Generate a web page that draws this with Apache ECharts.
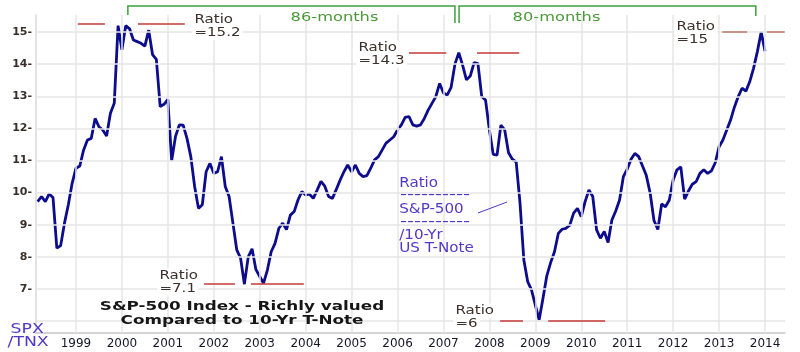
<!DOCTYPE html>
<html><head><meta charset="utf-8">
<script src="https://cdn.jsdelivr.net/npm/echarts@6/dist/echarts.min.js"></script>
<style>html,body{margin:0;padding:0;background:#fff}#c{width:800px;height:352px}</style>
</head><body><div id="c"></div>
<script>
// ---- data ----
const firstYear = 1998;
const firstMonth = 2; // 0-based month index of the first value (March 1998)
const ratio = [
  9.72, 9.88, 9.72, 9.96, 9.85, 8.27, 8.35, 9.05, 9.62, 10.29,
  10.76, 10.83, 11.33, 11.64, 11.69, 12.31, 12.05, 11.95, 11.76, 12.47, 12.78, 15.2,
  14.45, 15.2, 15.1, 14.75, 14.7, 14.65, 14.56, 15.06, 14.3, 14.15, 12.68, 12.75,
  12.9, 11.0, 11.75, 12.11, 12.1, 11.69, 11.12, 10.19, 9.51, 9.62, 10.65, 10.91,
  10.6, 10.65, 11.12, 10.19, 9.88, 9.05, 8.22, 7.96, 7.15, 8.0, 8.25, 7.61,
  7.39, 7.18, 7.59, 8.16, 8.42, 8.89, 9.05, 8.85, 9.3, 9.41, 9.77, 10.03,
  9.93, 9.95, 9.82, 10.08, 10.35, 10.2, 9.88, 9.82, 10.1, 10.39, 10.65, 10.86,
  10.65, 10.86, 10.6, 10.5, 10.53, 10.76, 11.02, 11.12, 11.33, 11.54, 11.64, 11.74,
  11.95, 12.11, 12.34, 12.37, 12.11, 12.07, 12.11, 12.31, 12.57, 12.78, 12.99, 13.4,
  13.1, 13.04, 13.28, 14.0, 14.36, 13.97, 13.51, 13.63, 14.05, 14.02, 12.99, 12.88,
  11.95, 11.19, 11.17, 12.1, 11.95, 11.24, 11.04, 10.95, 9.67, 7.9, 7.23, 6.97,
  6.5, 6.04, 6.71, 7.41, 7.82, 8.16, 8.73, 8.86, 8.89, 8.99, 9.36, 9.51,
  9.25, 9.72, 10.08, 9.88, 8.84, 8.58, 8.79, 8.45, 9.15, 9.43, 9.77, 10.5,
  10.73, 11.04, 11.22, 11.12, 10.83, 10.53, 9.98, 9.13, 8.85, 9.65, 9.56, 9.77,
  10.39, 10.71, 10.8, 9.8, 10.05, 10.26, 10.34, 10.6, 10.71, 10.6, 10.68, 10.93,
  11.43, 11.64, 11.95, 12.26, 12.66, 12.99, 13.25, 13.16, 13.45, 13.87, 14.39, 15.0,
  14.4
];
const yearTicks = [1999,2000,2001,2002,2003,2004,2005,2006,2007,2008,2009,2010,2011,2012,2013,2014];
const valueTicks = [7,8,9,10,11,12,13,14,15];
const gridValues = [6,7,8,9,10,11,12,13,14,15];
const levelValues = [15.25, 14.37, 7.15, 6.0, 15.0];
const levelSpans = [
  [[1999.04, 1999.63], [2000.35, 2001.37]],
  [[2006.25, 2007.06], [2007.73, 2008.65]],
  [[2001.79, 2002.46], [2002.81, 2003.96]],
  [[2008.23, 2008.73], [2009.28, 2010.52]],
  [[2013.07, 2013.61], [2014.04, 2014.43]]
];
const levelLabels = ['=15.2', '=14.3', '=7.1', '=6', '=15'];
const cycleSpans = [[2000.13, 2007.25], [2007.34, 2013.8]];
const cycleLabels = ['86-months', '80-months'];

// ---- chart ----
const chart = echarts.init(document.getElementById('c'), null, {renderer: 'canvas'});
const FONT = '"DejaVu Sans", Verdana, sans-serif';
const X_MIN = 1998.13, X_MAX = 2014.435, Y_MIN = 5.63, Y_MAX = 15.53;

const lineData = ratio.map((v, i) => [firstYear + (firstMonth + i) / 12, v]);

const gridMarks = gridValues.map(v => ({yAxis: v})).concat(yearTicks.map(y => ({xAxis: y})));
const levelMarks = [];
levelSpans.forEach((spans, k) => {
  spans.forEach(s => {
    levelMarks.push([
      {coord: [s[0], levelValues[k]], lineStyle: {color: k === 4 ? '#b87a62' : '#c63a3a'}},
      {coord: [s[1], levelValues[k]]}
    ]);
  });
});

chart.setOption({
  animation: false,
  grid: {left: 36, right: 15, top: 15, bottom: 19, containLabel: false},
  xAxis: {
    type: 'value', min: X_MIN, max: X_MAX,
    splitLine: {show: false},
    axisTick: {show: false},
    axisLine: {show: true, lineStyle: {color: '#c8c8c8', width: 1.5}},
    axisLabel: {
      customValues: yearTicks, margin: 5,
      color: '#16162a', fontFamily: FONT, fontSize: 12,
      formatter: v => String(Math.round(v))
    }
  },
  yAxis: {
    type: 'value', min: Y_MIN, max: Y_MAX,
    splitLine: {show: false},
    axisTick: {show: false},
    axisLine: {show: true, lineStyle: {color: '#dadada', width: 1.5}},
    axisLabel: {
      customValues: valueTicks, margin: 4,
      color: '#3b2f2a', fontFamily: FONT, fontSize: 11, fontWeight: 'bold',
      formatter: v => Math.round(v) + '-'
    }
  },
  series: [
    {
      type: 'line', data: [], z: 1, silent: true,
      markLine: {
        silent: true, symbol: ['none', 'none'], label: {show: false},
        lineStyle: {color: '#e6e6e6', width: 1.5, type: 'solid'},
        emphasis: {disabled: true},
        data: gridMarks
      }
    },
    {
      type: 'line', data: [], z: 2, silent: true,
      markLine: {
        silent: true, symbol: ['none', 'none'], label: {show: false},
        lineStyle: {color: '#c63a3a', width: 1.5, type: 'solid'},
        emphasis: {disabled: true},
        data: levelMarks
      }
    },
    {
      type: 'line', data: lineData, z: 3, showSymbol: false, symbol: 'none',
      lineStyle: {color: '#0c0c8c', width: 2.8}, silent: true
    }
  ]
});

// ---- annotations ----
function txt(text, x, y, o) {
  o = o || {};
  return {
    type: 'text', x: x, y: y, scaleX: o.sx || 1.25, z: 20, silent: true,
    style: {
      text: text, fill: o.color || '#3c3029',
      font: (o.bold ? 'bold ' : '') + (o.size || 12) + 'px ' + FONT,
      align: o.align || 'left', verticalAlign: 'middle',
      backgroundColor: o.bg === false ? 'transparent' : '#fff',
      padding: o.pad || [1, 2]
    }
  };
}
const px = (x, y) => chart.convertToPixel({gridIndex: 0}, [x, y]);
const g = [];
// level labels
const ratioPos = [[192, 19.5, 32.5], [356, 47.5, 61], [157, 275.5, 288.5], [453, 310.5, 323.5], [674, 26.5, 39.5]];
ratioPos.forEach((p, k) => {
  g.push(txt('Ratio', p[0], p[1]));
  g.push(txt(levelLabels[k], p[0], p[2]));
});
// cycle brackets
const GREEN = '#3e9e3e';
const cycleTextX = [288, 510];
cycleSpans.forEach((s, k) => {
  const a = px(s[0], 10)[0], b = px(s[1], 10)[0];
  const la = k === 0 ? 15 : 23, lb = k === 0 ? 23 : 16;
  g.push({type: 'polyline', z: 20, silent: true,
    shape: {points: [[a, la], [a, 6], [b, 6], [b, lb]]},
    style: {stroke: GREEN, lineWidth: 1.5, fill: null}});
  g.push(txt(cycleLabels[k], cycleTextX[k], 17.7, {color: '#4a9a38', size: 12.5, sx: 1.3, bg: false}));
});
// title
g.push(txt('S&P-500 Index - Richly valued', 242, 307.3, {bold: true, color: '#161616', sx: 1.4, align: 'center', bg: false}));
g.push(txt('Compared to 10-Yr T-Note', 242, 321, {bold: true, color: '#161616', sx: 1.4, align: 'center', bg: false}));
// ratio legend block
const VIO = '#5438c6';
const vo = {color: VIO, size: 13.5, sx: 1.12, bg: false, pad: 0};
g.push(txt('Ratio', 397, 183, vo));
g.push(txt('----------', 397, 195.5, {color: VIO, size: 13.5, sx: 1.44, bg: false, pad: 0}));
g.push(txt('S&P-500', 397, 209, vo));
g.push(txt('----------', 397, 222, {color: VIO, size: 13.5, sx: 1.44, bg: false, pad: 0}));
g.push(txt('/10-Yr', 397, 235, vo));
g.push(txt('US T-Note', 397, 248.5, vo));
g.push({type: 'line', z: 20, silent: true, shape: {x1: 478, y1: 213, x2: 507, y2: 202},
  style: {stroke: VIO, lineWidth: 1}});
// axis name
g.push(txt('SPX', 8, 329, {color: VIO, size: 13.5, sx: 1.28, bg: false, pad: 0}));
g.push(txt('/TNX', 5, 342.5, {color: VIO, size: 13.5, sx: 1.28, bg: false, pad: 0}));

chart.setOption({graphic: {elements: g}});
</script>
</body></html>
